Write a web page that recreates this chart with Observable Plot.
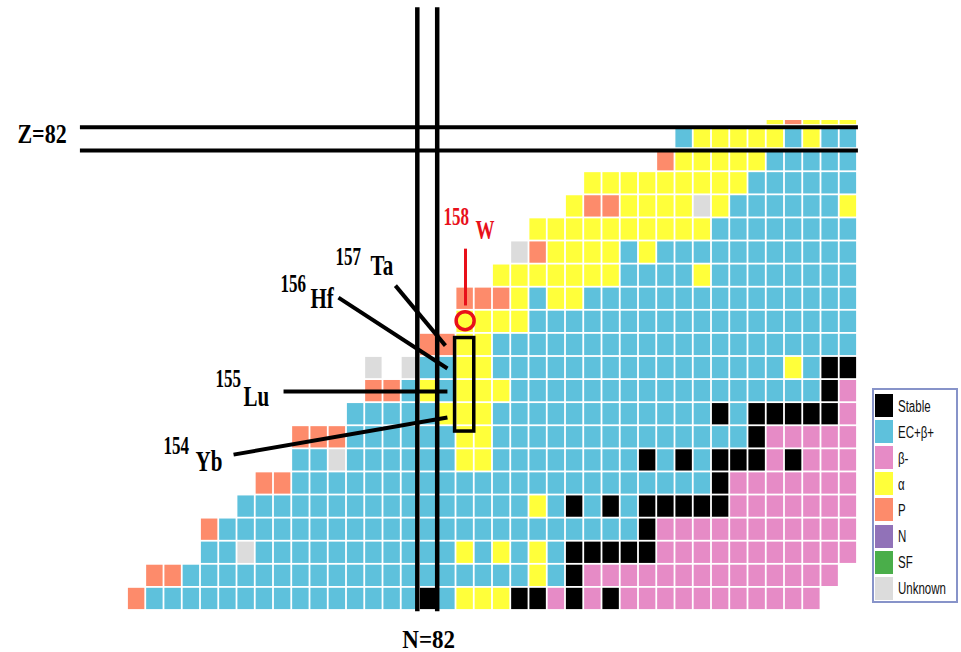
<!DOCTYPE html>
<html>
<head>
<meta charset="utf-8">
<script src="https://cdn.jsdelivr.net/npm/d3@7"></script>
<script src="https://cdn.jsdelivr.net/npm/@observablehq/plot@0.6"></script>
<style>
  body { margin: 0; background: #fff; }
  #wrap { position: relative; width: 961px; height: 652px; overflow: hidden; background: #fff; }
  #wrap svg { position: absolute; left: 0; top: 0; }
  #legend { position: absolute; left: 872px; top: 388px; width: 86px; height: 215px; box-sizing: border-box;
            border: 2px solid #8793c9; background: #fff; font-family: "Liberation Sans", Arial, sans-serif; font-size: 11.5px; color: #111; }
  .item { position: absolute; left: 1px; height: 23px; display: flex; align-items: center; }
  .sw { width: 18px; height: 23px; margin-right: 5px; }
  .lab { display: inline-block; transform: scaleY(1.5); }
</style>
</head>
<body>
<div id="wrap"><div id="legend"></div></div>
<script>
// ---- data ----
const nStart = 66;                 // neutron number of first column
const zValues = [62,63,64,65,66,67,68,69,70,71,72,73,74,75,76,77,78,79,80,81,82,83];
// decay-mode code per nuclide, one string per Z, column i -> N = nStart + i
// S stable, E EC+β+, B β-, A α, P proton, N neutron, F SF, U unknown, . none
const rows = [
  "PEEEEEEEEEEEEEEESEAAASSBSBSBBBBBBBBBBB..", // Z=62
  ".PPEEEEEEEEEEEEEEEEEEEAESBBBBBBBBBBBBBB.", // Z=63
  "....EEUEEEEEEEEEEEAEAEAESSSSSBBBBBBBBBBB", // Z=64
  "....PEEEEEEEEEEEEEEEEEEEEEEESBBBBBBBBBBB", // Z=65
  "......EEEEEEEEEEEEEEEEAESESESSSSSBBBBBBB", // Z=66
  ".......PPEEEEEEEEEEEEEEEEEEEEEEESBBBBBBB", // Z=67
  ".........EEUEEEEEEAAEEEEEEEESESESSSBSBBB", // Z=68
  ".........PPPEEEEEEAAEEEEEEEEEEEEEESBBBBB", // Z=69
  "............EEEEEAAAEEEEEEEEEEEESESSSSSB", // Z=70
  ".............PPEAEAAAEEEEEEEEEEEEEEEEESB", // Z=71
  ".............U.UEEAAEEEEEEEEEEEEEEEEAESS", // Z=72
  "................PPAAEEEEEEEEEEEEEEEEEEEE", // Z=73
  "..................AAAAEEEEEEEEEEEEEEEEEE", // Z=74
  "..................PPPAEAAEEEEEEEEEEEEEEE", // Z=75
  "....................AAAAAAAEEEEAEEEEEEEE", // Z=76
  ".....................UPAAAAEAEEEEEEEEEEE", // Z=77
  "......................AAAAAAAAAAEEEEEEEE", // Z=78
  "........................APPAAAAUAEEEEEEA", // Z=79
  ".........................AAAAAAAAAEEEEEE", // Z=80
  ".............................PAAAAAEEEEE", // Z=81
  "..............................EAAAAAEAEE", // Z=82
  "...................................APAAA"  // Z=83 (cut by the top edge)
];
const codes      = ["S", "E", "B", "A", "P", "N", "F", "U"];
const categories = ["Stable", "EC+β+", "β-", "α", "P", "N", "SF", "Unknown"];
const colors     = ["#000000", "#5ec1dc", "#e68bc6", "#ffff3a", "#fd8b6b", "#9172b8", "#4aae4a", "#dcdcdc"];

// highlighted nuclides (N = 84 isotones)
const symbols        = ["Yb", "Lu", "Hf", "Ta", "W"];
const massNumbers    = [154, 155, 156, 157, 158];
const protonNumbers  = [70, 71, 72, 73, 74];
const neutronNumbers = [84, 84, 84, 84, 84];
// label anchors, in (N, Z) chart units
const massAnchorN   = [67.47, 70.32, 73.88, 76.90, 82.82];
const massAnchorZ   = [68.64, 71.52, 75.64, 76.81, 78.54];
const symbolAnchorN = [69.23, 71.86, 75.53, 78.82, 84.57];
const symbolAnchorZ = [67.95, 70.77, 75.03, 76.44, 77.95];
const pointerFromN  = [71.31, 74.05, 77.06, 80.18, 84.02];
const pointerFromZ  = [68.25, 70.98, 75.05, 75.57, 77.17];
const pointerToN    = [83.03, 83.03, 83.03, 82.92, 84.02];
const pointerToZ    = [69.86, 70.98, 71.98, 72.97, 74.71];

const magicN = 82, magicZ = 82;

// ---- build tables ----
const cells = [];
rows.forEach((row, r) => {
  [...row].forEach((c, i) => {
    if (c === ".") return;
    cells.push({N: nStart + i, Z: zValues[r], mode: categories[codes.indexOf(c)]});
  });
});
const labels = symbols.map((s, i) => ({
  sym: s, mass: String(massNumbers[i]), Z: protonNumbers[i], N: neutronNumbers[i],
  mn: massAnchorN[i], mz: massAnchorZ[i], sn: symbolAnchorN[i], sz: symbolAnchorZ[i],
  n1: pointerFromN[i], z1: pointerFromZ[i], n2: pointerToN[i], z2: pointerToZ[i]
}));
const black = labels.slice(0, 4), red = labels.slice(4);
const boxed = [{n1: 83.45, n2: 84.5, z1: 69.25, z2: 73.3}];
const vLines = [magicN - 0.62, magicN + 0.47];
const hLines = [magicZ - 0.58, magicZ + 0.43];
const magicText = [{t: "Z=" + magicZ, n: 59.47, z: 82.15}];
const magicTextN = [{t: "N=" + magicN, n: 82.0, z: 60.22}];

const RED = "#e8101a";
const serif = "'Liberation Serif', 'Times New Roman', serif";

const plot = Plot.plot({
  width: 961, height: 652,
  marginLeft: 127, marginRight: 104, marginTop: 120, marginBottom: 42,
  x: {domain: [nStart - 0.5, nStart + rows[0].length - 0.5], axis: null},
  y: {domain: [zValues[0] - 0.5, 82.72], axis: null},
  color: {domain: categories, range: colors},
  style: {background: "white", overflow: "visible"},
  marks: [
    Plot.rect(cells, {x1: d => d.N - 0.5, x2: d => d.N + 0.5, y1: d => d.Z - 0.5, y2: d => d.Z + 0.5, fill: "mode", inset: 0.9, clip: true}),
    Plot.ruleX(vLines, {y1: 61.45, y2: 87.6, stroke: "black", strokeWidth: 4.5}),
    Plot.ruleY(hLines, {x1: 62.92, x2: 105.55, stroke: "black", strokeWidth: 4}),
    Plot.rect(boxed, {x1: "n1", x2: "n2", y1: "z1", y2: "z2", fill: "none", stroke: "black", strokeWidth: 3.5}),
    Plot.link(black, {x1: "n1", y1: "z1", x2: "n2", y2: "z2", stroke: "black", strokeWidth: 4}),
    Plot.link(red, {x1: "n1", y1: "z1", x2: "n2", y2: "z2", stroke: RED, strokeWidth: 3}),
    Plot.dot(red, {x: "N", y: d => d.Z + 0.05, r: 9, stroke: RED, strokeWidth: 3.5, fill: "none"}),
    Plot.text(magicText, {x: "n", y: "z", text: "t", textAnchor: "start", fontSize: 22, fontWeight: "bold", fontFamily: serif, fill: "black"}),
    Plot.text(magicTextN, {x: "n", y: "z", text: "t", textAnchor: "middle", fontSize: 23, fontWeight: "bold", fontFamily: serif, fill: "black"}),
    Plot.text(black, {x: "mn", y: "mz", text: "mass", textAnchor: "start", fontSize: 17, fontWeight: "bold", fontFamily: serif, fill: "black"}),
    Plot.text(black, {x: "sn", y: "sz", text: "sym", textAnchor: "start", fontSize: 21, fontWeight: "bold", fontFamily: serif, fill: "black"}),
    Plot.text(red, {x: "mn", y: "mz", text: "mass", textAnchor: "start", fontSize: 17, fontWeight: "bold", fontFamily: serif, fill: RED}),
    Plot.text(red, {x: "sn", y: "sz", text: "sym", textAnchor: "start", fontSize: 19, fontWeight: "bold", fontFamily: serif, fill: RED})
  ]
});

const wrap = document.getElementById("wrap");
wrap.insertBefore(plot, wrap.firstChild);

// vertical stretch of the label glyphs (as in the original artwork)
const stretch = [1.25, 1.1, 1.45, 1.4, 1.45, 1.4];
const svgns = "http://www.w3.org/2000/svg";
plot.querySelectorAll('g[aria-label="text"]').forEach((g, gi) => {
  const k = stretch[gi] || 1;
  [...g.querySelectorAll("text")].forEach(t => {
    const w = document.createElementNS(svgns, "g");
    t.parentNode.insertBefore(w, t);
    w.appendChild(t);
    const b = w.getBBox();
    const cx = b.x + b.width / 2, cy = b.y + b.height / 2;
    w.setAttribute("transform", `translate(${cx},${cy}) scale(1,${k}) translate(${-cx},${-cy})`);
  });
});

// legend
const legend = document.getElementById("legend");
categories.forEach((c, i) => {
  const item = document.createElement("div");
  item.className = "item";
  item.style.top = (4 + i * 26.1) + "px";
  const sw = document.createElement("span");
  sw.className = "sw";
  sw.style.background = colors[i];
  const lab = document.createElement("span");
  lab.className = "lab";
  lab.textContent = c;
  item.appendChild(sw);
  item.appendChild(lab);
  legend.appendChild(item);
});
</script>
</body>
</html>
